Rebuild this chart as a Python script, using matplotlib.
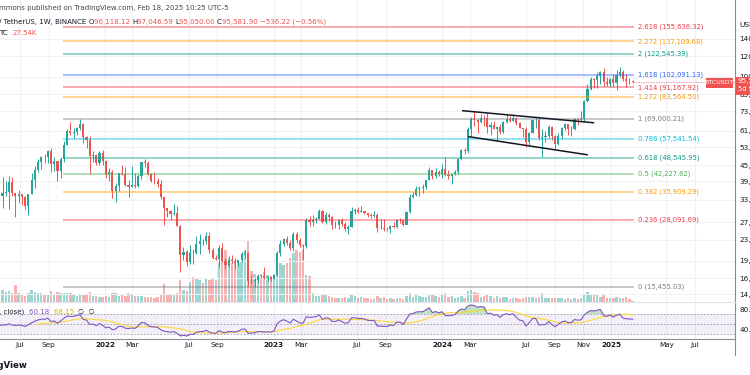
import numpy as np
import pandas as pd
import matplotlib
matplotlib.use("Agg")
import matplotlib.pyplot as plt
import matplotlib.dates as mdates
from matplotlib.patches import Rectangle

# ---------------------------------------------------------------
# BTC/USDT weekly candles (Binance), Monday opens from 2021-02-01
# ---------------------------------------------------------------
first_week = "2021-02-01"
first_open = 33100

closes_2021 = [38850, 48600, 57400, 46100, 50950, 59000, 57350, 55800, 57050, 59800, 56200, 49100,
               56600, 58250, 46450, 34700, 35650, 35800, 39100, 35500, 34700, 35300, 34250, 31780,
               35400, 39850, 43800, 47100, 49250, 48850, 51750, 46050, 47250, 43160, 48200, 54660,
               61550, 60850, 61300, 63300, 65500, 58700, 57250, 49400, 50100, 46700, 50800, 47300]
highs_2021 = [40950, 49700, 58350, 57550, 52650, 61850, 60650, 58450, 60000, 61300, 64850, 57500,
              58450, 59550, 59600, 46650, 40900, 39500, 41300, 41100, 35750, 36650, 35100, 34650,
              34500, 42600, 45300, 48150, 49500, 50500, 52000, 52900, 48850, 47350, 49250, 56550,
              62950, 67000, 63700, 64270, 69000, 66400, 59300, 59180, 51950, 50200, 51900, 52100]
lows_2021 = [32300, 37950, 47000, 43000, 45000, 49300, 53250, 50400, 55550, 55450, 51550, 47050,
             48800, 53000, 43800, 30000, 31200, 34800, 31000, 34800, 28800, 32700, 32100, 31000,
             29300, 35200, 37300, 42800, 43900, 46400, 46500, 42800, 43400, 39600, 40750, 46900,
             54400, 59700, 58100, 59400, 62300, 55600, 53250, 42000, 46750, 45500, 45550, 45700]
volumes_2021 = [700, 800, 750, 900, 600, 550, 450, 500, 400, 350, 500, 650,
                500, 450, 900, 620, 480, 380, 440, 330, 650, 330, 260, 250,
                330, 480, 380, 350, 330, 300, 320, 430, 260, 380, 330, 360,
                330, 350, 300, 240, 260, 300, 260, 400, 250, 220, 190, 180]

closes_2022 = [41850, 43100, 36300, 37900, 42400, 42200, 38350, 37700, 38400, 37800, 41250, 46850, 46400,
               42150, 39700, 39450, 38470, 34300, 31300, 30280, 29450, 29900, 26600, 20550, 21000, 19300,
               20850, 20800, 22580, 23300, 23170, 24300, 21500, 20050, 19800, 21800, 19420, 18800, 19630,
               19400, 19070, 19570, 20630, 20900, 16330, 16280, 16450, 17100, 17090, 16800, 16840, 16620]
highs_2022 = [47550, 44450, 43500, 38900, 42600, 45850, 44750, 40000, 45400, 42600, 42350, 47000, 48200,
              47200, 42400, 42950, 40800, 40000, 34300, 30650, 30650, 32200, 31750, 26900, 22000, 21550,
              22400, 21600, 24300, 24650, 23650, 25200, 25200, 21900, 20600, 22500, 22800, 19950, 20350,
              20450, 19950, 19700, 21100, 21500, 21050, 17200, 16800, 17400, 17400, 18400, 17050, 16950]
lows_2022 = [40600, 39650, 34000, 32900, 36300, 41700, 38000, 34300, 37500, 37200, 37600, 40500, 44900,
             41900, 39200, 38500, 37600, 33700, 26700, 28650, 28000, 29300, 26550, 17600, 19650, 18600,
             19000, 18900, 20750, 20700, 22400, 22650, 20800, 19800, 19550, 18500, 19300, 18100, 18450,
             19100, 18200, 18650, 19250, 20050, 15600, 15800, 15476, 16000, 16700, 16550, 16250, 16300]
volumes_2022 = [250, 210, 330, 330, 250, 280, 220, 330, 320, 220, 230, 230, 190,
                200, 190, 170, 190, 300, 700, 260, 270, 270, 340, 850, 450, 420,
                780, 950, 900, 850, 750, 900, 850, 900, 850, 1500, 1550, 2000, 1700,
                1650, 1600, 1500, 1550, 2000, 2400, 1200, 1100, 1000, 950, 1150, 1050, 1000]

closes_2023 = [17130, 20880, 22700, 23750, 22930, 21800, 24650, 23550, 22400, 22150, 28000, 27480, 27940,
               28300, 30300, 27600, 29250, 28850, 26900, 26750, 28070, 27100, 25900, 26340, 30450, 30600,
               30150, 30250, 29900, 29300, 29050, 29300, 26000, 26100, 25870, 25830, 26530, 26250, 27970,
               27920, 26850, 29990, 34500, 35000, 37050, 37350, 37450, 39950, 43800, 41350, 43000, 42280]
highs_2023 = [17200, 21300, 23400, 23950, 24250, 23450, 25250, 25250, 23900, 22600, 28400, 28900, 29200,
              28750, 31000, 30550, 30000, 29900, 28900, 27650, 28200, 28450, 27400, 26800, 31400, 31300,
              31400, 31800, 30350, 29900, 29750, 30250, 29700, 28150, 28150, 26300, 26900, 27500, 28050,
              28600, 28000, 30350, 35200, 35950, 37950, 37950, 38450, 40000, 44750, 43450, 44350, 43850]
lows_2023 = [16550, 17100, 20400, 22300, 22500, 21400, 21350, 22750, 21950, 19550, 21900, 26600, 26500,
             27200, 28200, 27200, 26950, 27700, 25800, 26100, 25900, 26500, 25350, 24800, 26250, 29500,
             29700, 29950, 29500, 28850, 28600, 28700, 25150, 25800, 25350, 25350, 24900, 26100, 26000,
             27200, 26550, 26950, 29850, 33950, 34550, 34800, 35650, 36850, 39950, 40200, 40550, 41300]
volumes_2023 = [1100, 1550, 1500, 1450, 1500, 1700, 1900, 2000, 1950, 2000, 1050, 1000, 330,
                220, 250, 260, 270, 220, 200, 150, 140, 160, 190, 170, 260, 220,
                170, 200, 140, 150, 130, 120, 220, 150, 180, 110, 150, 120, 140,
                160, 120, 220, 330, 210, 260, 220, 200, 190, 280, 260, 220, 180]

closes_2024 = [43950, 41750, 41600, 42050, 43000, 48300, 52150, 51750, 63100, 68950, 68400, 67200, 69650,
               69350, 63900, 64950, 63100, 63900, 61500, 66950, 68500, 67750, 69650, 66200, 63250, 62700,
               55850, 60800, 68150, 68250, 58150, 58700, 58900, 64200, 58950, 54850, 59150, 63600, 65650,
               62800, 62850, 69000, 68000, 68750, 80400, 89850, 97900, 97250, 101100, 104450, 95200, 93700,
               98350]
highs_2024 = [45900, 49000, 43550, 42250, 43850, 48600, 52800, 52900, 64000, 70150, 73800, 68950, 71750,
              71300, 72800, 66850, 67250, 64750, 65500, 67700, 71950, 70600, 71950, 70200, 66950, 63350,
              63850, 61000, 68350, 69400, 70050, 62750, 61850, 65050, 64500, 59800, 60650, 64150, 66500,
              65600, 64450, 69400, 69500, 73600, 81500, 93450, 99600, 98900, 104000, 105250, 108350, 99950,
              98950]
lows_2024 = [40750, 41500, 40300, 38550, 41800, 42250, 47700, 50550, 50900, 59000, 64500, 60750, 66500,
             64500, 60650, 59600, 62800, 56550, 60200, 60750, 66300, 66650, 67600, 65050, 63400, 58400,
             53500, 54250, 60650, 63500, 57150, 49000, 56050, 57850, 57200, 52550, 54550, 57500, 62600,
             59800, 58900, 62450, 65050, 67450, 66850, 80200, 89350, 90800, 90500, 94150, 92200, 92550,
             91550]
volumes_2024 = [300, 330, 190, 230, 170, 200, 250, 150, 420, 450, 380, 330, 200,
                230, 280, 220, 160, 230, 150, 180, 200, 130, 140, 150, 120, 170,
                200, 190, 190, 150, 180, 330, 150, 160, 150, 170, 150, 140, 110,
                140, 120, 150, 120, 150, 280, 400, 300, 260, 280, 200, 280, 160,
                140]

closes_2025 = [94550, 101350, 104750, 97700, 96450, 96118.12, 95581.90]
highs_2025 = [102750, 106400, 109600, 106450, 102500, 98850, 97046.59]
lows_2025 = [91200, 89250, 99450, 96500, 91200, 94100, 95050.00]
volumes_2025 = [170, 180, 150, 150, 200, 110, 27.54]

# Fibonacci retracement drawn on the chart
fib_ratios = ["0", "0.236", "0.382", "0.5", "0.618", "0.786", "1",
              "1.272", "1.414", "1.618", "2", "2.272", "2.618"]
fib_prices = [15455.03, 28091.69, 35909.29, 42227.62, 48545.95, 57541.54, 69000.21,
              83564.50, 91167.92, 102091.13, 122545.39, 137109.68, 155636.32]
fib_colors = ["#787b86", "#f23645", "#ff9800", "#4caf50", "#089981", "#00bcd4", "#787b86",
              "#ff9800", "#f23645", "#2962ff", "#089981", "#ff9800", "#f23645"]
fib_start, fib_end = "2021-10-02", "2025-02-20"

# descending channel trend lines (date, price)
upper_line = (["2024-02-15", "2024-11-24"], [74000, 66500])
lower_line = (["2024-02-28", "2024-11-10"], [58750, 50050])

# price scale labels (right axis)
price_ticks = [140000, 120000, 100000, 85500, 73600, 61800, 53600, 45500,
               39500, 33500, 27500, 23500, 19500, 16700, 14500]

# time axis labels
time_ticks = ["2021-07-01", "2021-09-01", "2022-01-01", "2022-03-01", "2022-07-01", "2022-09-01",
              "2023-01-01", "2023-03-01", "2023-07-01", "2023-09-01", "2024-01-01", "2024-03-01",
              "2024-07-01", "2024-09-01", "2024-11-01", "2025-01-01", "2025-05-01", "2025-07-01"]
time_labels = ["Jul", "Sep", "2022", "Mar", "Jul", "Sep", "2023", "Mar", "Jul", "Sep",
               "2024", "Mar", "Jul", "Sep", "Nov", "2025", "May", "Jul"]

UP, DOWN = "#26a69a", "#ef5350"
GRID = "#eef1f6"
TXT = "#131722"

closes = np.array(closes_2021 + closes_2022 + closes_2023 + closes_2024 + closes_2025, float)
highs = np.array(highs_2021 + highs_2022 + highs_2023 + highs_2024 + highs_2025, float)
lows = np.array(lows_2021 + lows_2022 + lows_2023 + lows_2024 + lows_2025, float)
volumes = np.array(volumes_2021 + volumes_2022 + volumes_2023 + volumes_2024 + volumes_2025, float)
opens = np.concatenate([[first_open], closes[:-1]])

weeks = pd.date_range(first_week, periods=len(closes), freq="7D")
x = mdates.date2num(weeks)
colors = np.where(closes >= opens, UP, DOWN)

# RSI(14) on close, Wilder smoothing, plus 14-period SMA of RSI
delta = np.diff(closes)
gain = np.clip(delta, 0, None)
loss = np.clip(-delta, 0, None)
avg_g = np.full(len(closes), np.nan)
avg_l = np.full(len(closes), np.nan)
avg_g[14] = gain[:14].mean()
avg_l[14] = loss[:14].mean()
for i in range(15, len(closes)):
    avg_g[i] = (avg_g[i - 1] * 13 + gain[i - 1]) / 14
    avg_l[i] = (avg_l[i - 1] * 13 + loss[i - 1]) / 14
rsi = 100 - 100 / (1 + avg_g / avg_l)
rsi_ma = pd.Series(rsi).rolling(14).mean().values

# ---------------------------------------------------------------
# figure
# ---------------------------------------------------------------
W, H = 750, 375
fig = plt.figure(figsize=(7.5, 3.75), dpi=100)
fig.patch.set_facecolor("white")
plt.rcParams["font.family"] = ["DejaVu Sans"]

day_px = 506 / 1096
x2022 = mdates.date2num(pd.Timestamp("2022-01-01"))
xlim = (x2022 - 105 / day_px, x2022 + 630 / day_px)

vax = fig.add_axes([0, 73 / H, 735 / W, 302 / H])
ax = fig.add_axes([0, 73 / H, 735 / W, 302 / H], sharex=vax)
rax = fig.add_axes([0, 36 / H, 735 / W, 37 / H])
ax.patch.set_visible(False)

# volume
vax.bar(x, volumes, width=5.2, color=colors, alpha=0.45, linewidth=0)
vax.set_ylim(0, 11700)
vax.axis("off")

# grid
tick_dates = mdates.date2num(pd.to_datetime(time_ticks))
for t in tick_dates:
    vax.axvline(t, color=GRID, lw=0.8, zorder=0)
    rax.axvline(t, color=GRID, lw=0.8, zorder=0)

ax.set_yscale("log")
ax.set_ylim(13515, 198000)
for p in price_ticks:
    ax.axhline(p, color=GRID, lw=0.8, zorder=0)

# candles
ax.vlines(x, lows, highs, colors=colors, lw=0.7, zorder=2)
body_lo = np.minimum(opens, closes)
body_hi = np.maximum(np.maximum(opens, closes), body_lo * 1.002)
ax.bar(x, body_hi - body_lo, bottom=body_lo, width=4.6, color=colors, linewidth=0, zorder=2)

# fib levels
fs, fe = mdates.date2num(pd.Timestamp(fib_start)), mdates.date2num(pd.Timestamp(fib_end))
for r, p, c in zip(fib_ratios, fib_prices, fib_colors):
    ax.plot([fs, fe], [p, p], color=c, lw=1.3, alpha=0.45, zorder=3, solid_capstyle="butt")
    ax.annotate(f"{r} ({p:,.2f})", (fe, p), xytext=(3, 0), textcoords="offset points",
                va="center", ha="left", fontsize=4.9, color=c, zorder=4)

# channel
for line in (upper_line, lower_line):
    ax.plot(mdates.date2num(pd.to_datetime(line[0])), line[1], color="#131722", lw=1.1, zorder=4)

# last price line
last = closes[-1]
ax.plot([x[-1], xlim[1]], [last, last], color=DOWN, lw=0.6, ls=(0, (1.5, 1.5)), alpha=0.8, zorder=3)

ax.set_xlim(*xlim)
ax.yaxis.tick_right()
ax.yaxis.set_minor_locator(matplotlib.ticker.NullLocator())
ax.set_yticks(price_ticks)
ax.set_yticklabels([f"{p:,.2f}" for p in price_ticks])
ax.tick_params(axis="y", length=0, pad=3, labelsize=5.2, labelcolor=TXT)
ax.tick_params(axis="x", bottom=False, labelbottom=False)
for s in ("top", "left", "bottom"):
    ax.spines[s].set_visible(False)
ax.spines["right"].set_color("#8a8d96")
ax.spines["right"].set_linewidth(0.8)

# RSI pane
rax.set_xlim(*xlim)
rax.set_ylim(20, 94)
rax.fill_between(xlim, 30, 70, color="#7e57c2", alpha=0.09, lw=0)
for lvl in (70, 50, 30):
    rax.axhline(lvl, color="#9598a1", lw=0.6, ls=(0, (2, 2)))
rax.plot(x, rsi_ma, color="#fdd835", lw=0.8)
rax.plot(x, rsi, color="#7e57c2", lw=0.8)
rax.fill_between(x, rsi, 70, where=rsi > 70, interpolate=True, color="#4caf50", alpha=0.35, lw=0)
rax.fill_between(x, rsi, 30, where=rsi < 30, interpolate=True, color="#f23645", alpha=0.3, lw=0)
rax.yaxis.tick_right()
rax.set_yticks([80, 40])
rax.set_yticklabels(["80.00", "40.00"])
rax.tick_params(axis="y", length=0, pad=3, labelsize=5.2, labelcolor=TXT)
rax.set_xticks(tick_dates)
rax.set_xticklabels(time_labels)
rax.tick_params(axis="x", length=0, pad=2.5, labelsize=5.2, labelcolor=TXT)
for lab, txt in zip(rax.get_xticklabels(), time_labels):
    if txt.isdigit():
        lab.set_fontweight("bold")
rax.spines["left"].set_visible(False)
rax.spines["top"].set_color("#e0e3eb")
rax.spines["top"].set_linewidth(0.8)
rax.spines["bottom"].set_color("#8a8d96")
rax.spines["bottom"].set_linewidth(0.8)
rax.spines["right"].set_color("#8a8d96")
rax.spines["right"].set_linewidth(0.8)

# right axis continuation below time axis
fig.add_artist(plt.Line2D([735 / W, 735 / W], [1 - 355 / H, 1 - 339 / H], color="#8a8d96", lw=0.8))

# ---------------------------------------------------------------
# header texts
# ---------------------------------------------------------------
def px(xp, yp):
    return xp / W, 1 - yp / H

renderer = fig.canvas.get_renderer()

def segments(xp, yp, parts, size=5.0):
    for txt, col, weight in parts:
        t = fig.text(*px(xp, yp), txt, color=col, fontsize=size, fontweight=weight, va="center", ha="left")
        xp += t.get_window_extent(renderer).width

segments(-1, 8, [("mmons published on TradingView.com, Feb 18, 2025 10:25 UTC-5", "#434651", "normal")])
segments(-1, 22, [("/ TetherUS, 1W, BINANCE ", TXT, "normal"),
                  ("O", TXT, "normal"), ("96,118.12 ", DOWN, "normal"),
                  ("H", TXT, "normal"), ("97,046.59 ", DOWN, "normal"),
                  ("L", TXT, "normal"), ("95,050.00 ", DOWN, "normal"),
                  ("C", TXT, "normal"), ("95,581.90 \u2212536.22 (\u22120.56%)", DOWN, "normal")])
segments(-1, 33, [("TC  ", TXT, "normal"), ("27.54K", DOWN, "normal")])
segments(-1, 312, [(", close)  ", TXT, "normal"), ("60.18  ", "#7e57c2", "normal"),
                   ("68.15  ", "#d4b400", "normal"), ("\u2205  \u2205", TXT, "normal")])

# currency label and price boxes at the right edge
fig.text(*px(739, 25), "USDT", fontsize=5.3, color=TXT, va="center", ha="left")
fig.add_artist(Rectangle(px(706, 88), 27 / W, 10 / H, transform=fig.transFigure,
                         color=DOWN, lw=0))
fig.text(*px(719.5, 83), "BTCUSDT", fontsize=4.6, color="white", va="center", ha="center")
fig.add_artist(Rectangle(px(736, 95), 20 / W, 18 / H, transform=fig.transFigure,
                         color=DOWN, lw=0))
fig.text(*px(738, 81), "95,581.90", fontsize=5.2, color="white", va="center", ha="left")
fig.text(*px(738, 89), "5d 9h", fontsize=4.8, color="white", va="center", ha="left")

# TradingView mark bottom left
fig.text(*px(28, 365), "TradingView", fontsize=6.2, fontweight="bold", color=TXT,
         va="center", ha="right")

fig.savefig("out.png", dpi=100)
